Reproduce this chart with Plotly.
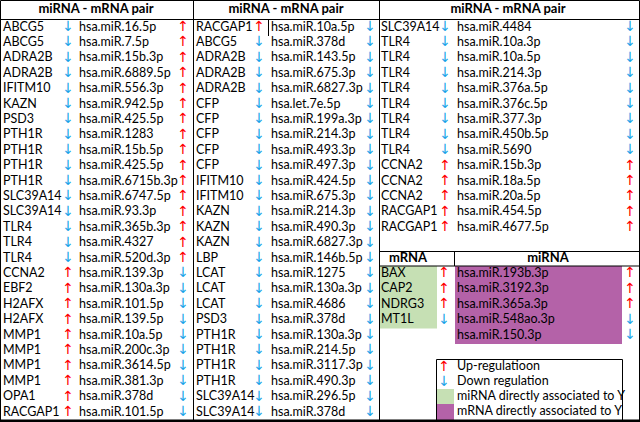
import plotly.graph_objects as go

# ---------------- data ----------------
header = "miRNA - mRNA pair"

p1_mrna = ["ABCG5", "ABCG5", "ADRA2B", "ADRA2B", "IFITM10", "KAZN", "PSD3", "PTH1R", "PTH1R",
           "PTH1R", "PTH1R", "SLC39A14", "SLC39A14", "TLR4", "TLR4", "TLR4", "CCNA2", "EBF2",
           "H2AFX", "H2AFX", "MMP1", "MMP1", "MMP1", "MMP1", "OPA1", "RACGAP1"]
p1_mrna_reg = ["D", "D", "D", "D", "D", "D", "D", "D", "D", "D", "D", "D", "D", "D", "D", "D",
               "U", "U", "U", "U", "U", "U", "U", "U", "U", "U"]
p1_mirna = ["hsa.miR.16.5p", "hsa.miR.7.5p", "hsa.miR.15b.3p", "hsa.miR.6889.5p", "hsa.miR.556.3p",
            "hsa.miR.942.5p", "hsa.miR.425.5p", "hsa.miR.1283", "hsa.miR.15b.5p", "hsa.miR.425.5p",
            "hsa.miR.6715b.3p", "hsa.miR.6747.5p", "hsa.miR.93.3p", "hsa.miR.365b.3p", "hsa.miR.4327",
            "hsa.miR.520d.3p", "hsa.miR.139.3p", "hsa.miR.130a.3p", "hsa.miR.101.5p", "hsa.miR.139.5p",
            "hsa.miR.10a.5p", "hsa.miR.200c.3p", "hsa.miR.3614.5p", "hsa.miR.381.3p", "hsa.miR.378d",
            "hsa.miR.101.5p"]
p1_mirna_reg = ["U", "U", "U", "U", "U", "U", "U", "U", "U", "U", "U", "U", "U", "U", "U", "U",
                "D", "D", "D", "D", "D", "D", "D", "D", "D", "D"]

p2_mrna = ["RACGAP1", "ABCG5", "ADRA2B", "ADRA2B", "ADRA2B", "CFP", "CFP", "CFP", "CFP", "CFP",
           "IFITM10", "IFITM10", "KAZN", "KAZN", "KAZN", "LBP", "LCAT", "LCAT", "LCAT", "PSD3",
           "PTH1R", "PTH1R", "PTH1R", "PTH1R", "SLC39A14", "SLC39A14"]
p2_mrna_reg = ["U", "D", "D", "D", "D", "D", "D", "D", "D", "D", "D", "D", "D", "D", "D", "D",
               "D", "D", "D", "D", "D", "D", "D", "D", "D", "D"]
p2_mirna = ["hsa.miR.10a.5p", "hsa.miR.378d", "hsa.miR.143.5p", "hsa.miR.675.3p", "hsa.miR.6827.3p",
            "hsa.let.7e.5p", "hsa.miR.199a.3p", "hsa.miR.214.3p", "hsa.miR.493.3p", "hsa.miR.497.3p",
            "hsa.miR.424.5p", "hsa.miR.675.3p", "hsa.miR.214.3p", "hsa.miR.490.3p", "hsa.miR.6827.3p",
            "hsa.miR.146b.5p", "hsa.miR.1275", "hsa.miR.130a.3p", "hsa.miR.4686", "hsa.miR.378d",
            "hsa.miR.130a.3p", "hsa.miR.214.5p", "hsa.miR.3117.3p", "hsa.miR.490.3p", "hsa.miR.296.5p",
            "hsa.miR.378d"]
p2_mirna_reg = ["D", "D", "D", "D", "D", "D", "D", "D", "D", "D", "D", "D", "D", "D", "D", "D",
                "D", "D", "D", "D", "D", "D", "D", "D", "D", "D"]

p3_mrna = ["SLC39A14", "TLR4", "TLR4", "TLR4", "TLR4", "TLR4", "TLR4", "TLR4", "TLR4",
           "CCNA2", "CCNA2", "CCNA2", "RACGAP1", "RACGAP1"]
p3_mrna_reg = ["D", "D", "D", "D", "D", "D", "D", "D", "D", "U", "U", "U", "U", "U"]
p3_mirna = ["hsa.miR.4484", "hsa.miR.10a.3p", "hsa.miR.10a.5p", "hsa.miR.214.3p", "hsa.miR.376a.5p",
            "hsa.miR.376c.5p", "hsa.miR.377.3p", "hsa.miR.450b.5p", "hsa.miR.5690", "hsa.miR.15b.3p",
            "hsa.miR.18a.5p", "hsa.miR.20a.5p", "hsa.miR.454.5p", "hsa.miR.4677.5p"]
p3_mirna_reg = ["D", "D", "D", "D", "D", "D", "D", "D", "D", "U", "U", "U", "U", "U"]

y_header = ["mRNA", "miRNA"]
y_mrna = ["BAX", "CAP2", "NDRG3", "MT1L"]
y_mrna_reg = ["U", "U", "U", "D"]
y_mirna = ["hsa.miR.193b.3p", "hsa.miR.3192.3p", "hsa.miR.365a.3p", "hsa.miR.548ao.3p", "hsa.miR.150.3p"]
y_mirna_reg = ["U", "U", "U", "D", "D"]

legend_labels = ["Up-regulatioon", "Down regulation", "miRNA directly associated to Y",
                 "mRNA directly associated to Y"]

# ---------------- style ----------------
RED = "#FF0000"
BLUE = "#1AA3E8"
GREEN = "#C6E0B4"
PURPLE = "#B462A8"
FONT = "Lato"
FS = 12.5
ARROW_FONT = "DejaVu Sans"
ARROW_FS = 14
ARROW = {"U": "↑", "D": "↓"}
COLOR = {"U": RED, "D": BLUE}

ROW0, ROWH = 27.5, 15.4
SUB0, SUBH = 273.5, 15.6

fig = go.Figure()


def text_trace(xs, ys, texts, color="black", pos="middle right", family=FONT, size=FS, bold=False):
    if bold:
        texts = [f"<b>{t}</b>" for t in texts]
    fig.add_trace(go.Scatter(x=xs, y=ys, text=texts, mode="text", textposition=pos,
                             textfont=dict(family=family, size=size, color=color),
                             hoverinfo="skip", showlegend=False, cliponaxis=False))


def arrow_trace(x, ys, regs):
    for key in ("U", "D"):
        yy = [y for y, r in zip(ys, regs) if r == key]
        if yy:
            text_trace([x] * len(yy), yy, [ARROW[key]] * len(yy), color=COLOR[key],
                       pos="middle center", family=ARROW_FONT, size=ARROW_FS)


def panel(x_mrna, x_a1, x_mirna, x_a2, mrna, mrna_reg, mirna, mirna_reg):
    ys = [ROW0 + i * ROWH for i in range(len(mrna))]
    text_trace([x_mrna] * len(mrna), ys, mrna)
    arrow_trace(x_a1, ys, mrna_reg)
    text_trace([x_mirna] * len(mirna), ys, mirna)
    arrow_trace(x_a2, ys, mirna_reg)


panel(3, 68, 79, 183, p1_mrna, p1_mrna_reg, p1_mirna, p1_mirna_reg)
panel(196, 259, 271, 370, p2_mrna, p2_mrna_reg, p2_mirna, p2_mirna_reg)
panel(381, 445, 457, 630, p3_mrna, p3_mrna_reg, p3_mirna, p3_mirna_reg)

# headers
text_trace([96, 286, 508], [10, 10, 10], [header] * 3, pos="middle center", bold=True, size=13)
text_trace([408, 548], [258.5, 258.5], y_header, pos="middle center", bold=True, size=13)

shapes = []
# sub-table fills
shapes.append(dict(type="rect", x0=380, x1=437, y0=266, y1=328.5, fillcolor=GREEN, line_width=0, layer="below"))
shapes.append(dict(type="rect", x0=455, x1=622, y0=266, y1=344, fillcolor=PURPLE, line_width=0, layer="below"))
# legend swatches
shapes.append(dict(type="rect", x0=436.5, x1=454, y0=389, y1=404, fillcolor=GREEN, line_width=0, layer="below"))
shapes.append(dict(type="rect", x0=436.5, x1=454, y0=404, y1=420, fillcolor=PURPLE, line_width=0, layer="below"))

sub_ys = [SUB0 + i * SUBH for i in range(len(y_mirna))]
text_trace([381] * len(y_mrna), sub_ys[:len(y_mrna)], y_mrna)
arrow_trace(444, sub_ys[:len(y_mrna)], y_mrna_reg)
text_trace([457] * len(y_mirna), sub_ys, y_mirna)
arrow_trace(630, sub_ys, y_mirna_reg)

# legend
leg_ys = [367, 382, 397, 412]
arrow_trace(444, leg_ys[:2], ["U", "D"])
text_trace([457] * 4, leg_ys, legend_labels)


def line(x0, y0, x1, y1, w=1):
    shapes.append(dict(type="line", x0=x0, y0=y0, x1=x1, y1=y1, line=dict(color="black", width=w)))


# outer border
shapes.append(dict(type="rect", x0=0.5, x1=639.5, y0=0.5, y1=421, line=dict(color="black", width=1)))
line(0, 420.8, 640, 420.8, 2.5)
# header underline
line(0, 19.5, 640, 19.5)
# panel separators
line(193.5, 0, 193.5, 422)
line(379.5, 0, 379.5, 422)
# small stray line in panel 2 first row
line(268.5, 19.5, 268.5, 36)
# sub-table lines
line(379.5, 251.5, 640, 251.5)
line(379.5, 266, 640, 266)
line(454.5, 251.5, 454.5, 266)
# legend box
shapes.append(dict(type="rect", x0=436.5, x1=622.5, y0=359.5, y1=421, line=dict(color="black", width=1)))

fig.update_layout(
    width=640, height=422, autosize=False,
    margin=dict(l=0, r=0, t=0, b=0),
    paper_bgcolor="white", plot_bgcolor="white",
    xaxis=dict(range=[0, 640], visible=False, fixedrange=True),
    yaxis=dict(range=[422, 0], visible=False, fixedrange=True),
    shapes=shapes,
    showlegend=False,
)

fig.write_html("out.html", config={"displayModeBar": False},
               post_script="document.body.style.margin='0';document.body.style.padding='0';")
